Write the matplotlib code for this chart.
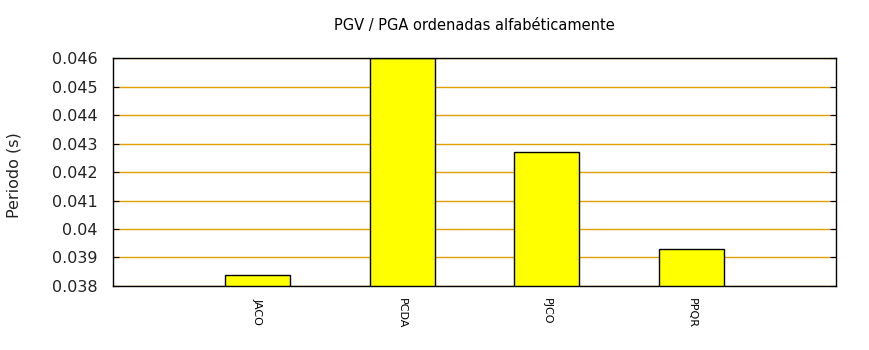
import matplotlib
matplotlib.use("Agg")
import matplotlib.pyplot as plt

estaciones = ["JACO", "PCDA", "PJCO", "PPQR"]
periodos = [0.03839, 0.0460, 0.04270, 0.03930]
yticks = [0.038, 0.039, 0.04, 0.041, 0.042, 0.043, 0.044, 0.045, 0.046]
yticklabels = ["0.038", "0.039", "0.04", "0.041", "0.042", "0.043", "0.044", "0.045", "0.046"]

fig = plt.figure(figsize=(8.7, 3.5), dpi=100)
ax = fig.add_axes([0.13, 0.183, 0.831, 0.651])

pos = list(range(1, len(estaciones) + 1))
ax.bar(pos, periodos, width=0.45, color="#ffff00", edgecolor="black",
       linewidth=1, zorder=3)

ax.set_xlim(0, 5)
ax.set_ylim(0.038, 0.046)
ax.set_yticks(yticks)
ax.set_yticklabels(yticklabels, fontsize=11.5, color="#222222")
ax.set_xticks(pos)
ax.set_xticklabels(estaciones, rotation=-90, fontsize=8)
ax.tick_params(axis="x", length=0, pad=9)
ax.tick_params(axis="y", direction="in", length=4, right=True, pad=11)
ax.grid(axis="y", color="#e0a000", linewidth=1, zorder=0)
ax.set_axisbelow(True)
for s in ax.spines.values():
    s.set_linewidth(1)
    s.set_zorder(4)

# etiqueta del eje y en posicion fija
fig.text(0.016, 0.5, "Periodo (s)", fontsize=11.5, rotation=90,
         ha="center", va="center", color="#222222")
ax.set_title("PGV / PGA ordenadas alfabéticamente", fontsize=10.5, pad=20)

fig.savefig("out.png", dpi=100)
